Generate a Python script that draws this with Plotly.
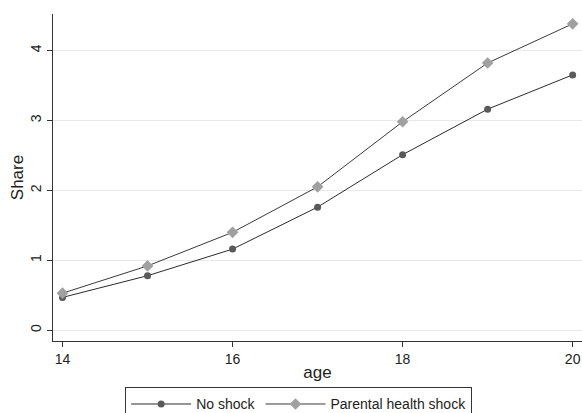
import plotly.graph_objects as go

ages = [14, 15, 16, 17, 18, 19, 20]
no_shock = [0.47, 0.78, 1.16, 1.76, 2.51, 3.16, 3.65]
parental_shock = [0.53, 0.92, 1.40, 2.05, 2.98, 3.82, 4.38]
x_ticks = [14, 16, 18, 20]
y_ticks = [0, 1, 2, 3, 4]

fig = go.Figure()
fig.add_trace(go.Scatter(
    x=ages, y=no_shock, name="No shock", mode="lines+markers",
    line=dict(color="#2b2b2b", width=1),
    marker=dict(symbol="circle", size=7, color="#5a5a5a"),
))
fig.add_trace(go.Scatter(
    x=ages, y=parental_shock, name="Parental health shock", mode="lines+markers",
    line=dict(color="#3a3a3a", width=1),
    marker=dict(symbol="diamond", size=9, color="#a0a0a0"),
))

font = dict(family="Liberation Sans, Arial, sans-serif", size=14, color="#222")
fig.update_layout(
    width=582, height=413,
    margin=dict(l=53, r=0, t=14, b=72, autoexpand=False),
    paper_bgcolor="white", plot_bgcolor="white",
    font=font,
    showlegend=True,
    legend=dict(
        orientation="h", xref="container", yref="container",
        x=0.215, xanchor="left", y=0.062, yanchor="top",
        bordercolor="#333", borderwidth=1, bgcolor="white",
        font=font,
        itemwidth=60,
    ),
    xaxis=dict(
        range=[13.888, 20.11], tickvals=x_ticks, ticks="outside", ticklen=5,
        tickcolor="#333", showline=True, linecolor="#333", linewidth=1,
        showgrid=False, zeroline=False, automargin=False,
        title=dict(text="age", standoff=0),
    ),
    yaxis=dict(
        range=[-0.153, 4.52], tickvals=y_ticks, ticks="outside", ticklen=5,
        tickcolor="#333", tickangle=-90, showline=True, linecolor="#333", linewidth=1,
        showgrid=True, gridcolor="#e8e8e8", gridwidth=1, zeroline=False, automargin=False,
        title=dict(text="Share", standoff=0),
    ),
)

fig.write_html(
    "out.html",
    config={"displayModeBar": False},
    post_script="document.body.style.margin='0';document.body.style.overflow='hidden';",
)
